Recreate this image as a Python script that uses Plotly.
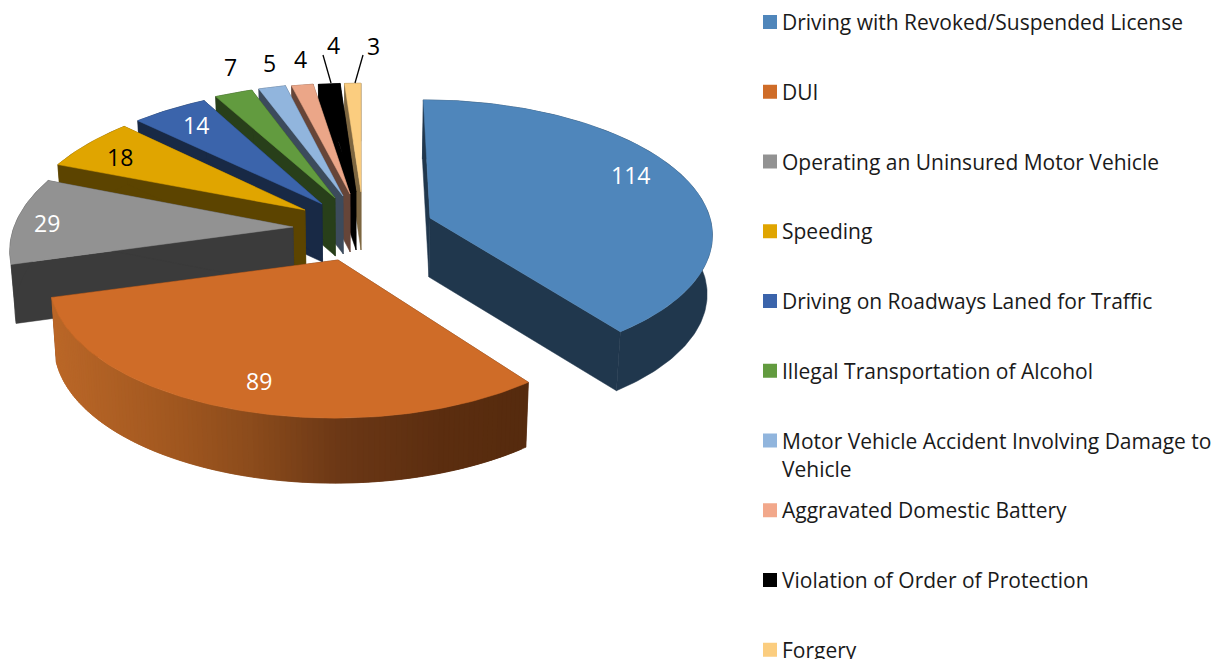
import numpy as np
import plotly.graph_objects as go

categories = ["Driving with Revoked/Suspended License", "DUI", "Operating an Uninsured Motor Vehicle",
              "Speeding", "Driving on Roadways Laned for Traffic", "Illegal Transportation of Alcohol",
              "Motor Vehicle Accident Involving Damage to<br>Vehicle", "Aggravated Domestic Battery",
              "Violation of Order of Protection", "Forgery"]
values = [114, 89, 29, 18, 14, 7, 5, 4, 4, 3]

top_colors = ["#4f86bb", "#cf6c28", "#929292", "#e0a500", "#3b64ab", "#629b3f", "#91b5dd", "#eba688", "#000000", "#fbcd7f"]
wall_colors = ["#20374d", "#5a2d10", "#3b3b3b", "#5c4400", "#182945", "#283f1a", "#3c4b5c", "#664538", "#000000", "#7d6640"]
swatch_colors = ["#4f86bb", "#cf6c28", "#929292", "#e0a500", "#3b64ab", "#629b3f", "#91b5dd", "#f2a88b", "#000000", "#fbcd7f"]

# drawing geometry of the exploded 3-D pie (pixel space)
tips = [(430, 218), (338, 260), (293, 227), (305, 210), (322, 204), (335, 198), (343, 196), (350, 194), (356, 192), (361, 192)]
radii_x = [280, 285, 279, 281, 284, 284, 284, 284, 284, 284]
radii_y = [130.5, 136, 136, 133, 132.5, 130, 129, 126.5, 124, 124]
perspective = [0.105, 0.14, 0.14, 0.14, 0.14, 0.14, 0.14, 0.14, 0.14, 0.14]
thickness = [59, 65, 59, 58, 58, 58, 58, 58, 58, 58]
X0, WALL_SHRINK = 360.0, 0.985
draw_order = [9, 8, 7, 6, 5, 4, 3, 2, 1, 0]

label_text = ["114", "89", "29", "18", "14", "7", "5", "4", "4", "3"]
label_pos = [(630, 175), (259, 381), (47, 223), (120, 157), (196, 125), (230, 67), (269, 63), (300, 59), (333, 45), (373, 46)]
label_colors = ["white", "white", "white", "black", "white", "black", "black", "black", "black", "black"]
leader_lines = [((323, 55), (331, 83)), ((363, 55), (355, 83))]

FONT = "Open Sans"
LEGEND_X, LEGEND_TOP, LEGEND_STEP = 770, 22, 69.75

# wall shading of the DUI slice, by horizontal position
orange_x = [55, 170, 250, 340, 440, 528]
orange_r = [186, 162, 140, 108, 92, 86]
orange_g = [103, 88, 76, 56, 46, 43]
orange_b = [40, 32, 28, 22, 16, 14]


def project(i, theta):
    X, Y = np.sin(theta), -np.cos(theta)
    s = 1.0 / (1.0 - perspective[i] * Y)
    x = X0 + (tips[i][0] - X0) * s + radii_x[i] * X * s
    y = tips[i][1] + radii_y[i] * Y * s
    return x, y


def lower(i, x, y):
    return X0 + (x - X0) * WALL_SHRINK, y + thickness[i]


def poly(fig, xs, ys, color):
    fig.add_trace(go.Scatter(x=list(xs), y=list(ys), mode="lines", fill="toself", fillcolor=color,
                             line=dict(color=color, width=0.5), hoverinfo="skip", showlegend=False))


def orange_at(x):
    return "rgb({},{},{})".format(int(np.interp(x, orange_x, orange_r)), int(np.interp(x, orange_x, orange_g)),
                                  int(np.interp(x, orange_x, orange_b)))


edges = np.cumsum([0] + values) / sum(values) * 2 * np.pi

fig = go.Figure()
for i in draw_order:
    a0, a1 = edges[i], edges[i + 1]
    th = np.linspace(a0, a1, max(8, int((a1 - a0) * 60)))
    rx, ry = project(i, th)
    bx, by = lower(i, rx, ry)
    tx, ty = tips[i]
    btx, bty = lower(i, tx, ty)
    # radial walls
    for rxe, rye, bxe, bye in ((rx[0], ry[0], bx[0], by[0]), (rx[-1], ry[-1], bx[-1], by[-1])):
        poly(fig, [tx, rxe, bxe, btx, tx], [ty, rye, bye, bty, ty], wall_colors[i])
    # outer wall
    if i == 1:
        n = len(th)
        for j in range(n - 1):
            e = min(j + 2, n - 1)
            poly(fig, [rx[j], rx[e], bx[e], bx[j], rx[j]], [ry[j], ry[e], by[e], by[j], ry[j]],
                 orange_at((rx[j] + rx[j + 1]) / 2))
    else:
        poly(fig, np.r_[rx, bx[::-1], rx[0]], np.r_[ry, by[::-1], ry[0]], wall_colors[i])
    # top face
    poly(fig, np.r_[tx, rx, tx], np.r_[ty, ry, ty], top_colors[i])

for (p, q) in leader_lines:
    fig.add_trace(go.Scatter(x=[p[0], q[0]], y=[p[1], q[1]], mode="lines", line=dict(color="black", width=1.3),
                             hoverinfo="skip", showlegend=False))

fig.add_trace(go.Scatter(x=[LEGEND_X] * len(categories), y=[LEGEND_TOP + k * LEGEND_STEP for k in range(len(categories))],
                         mode="markers", marker=dict(symbol="square", size=14, color=swatch_colors, line=dict(width=0)),
                         hovertext=categories, hoverinfo="text", showlegend=False))

annotations = []
for t, (x, y), c in zip(label_text, label_pos, label_colors):
    annotations.append(dict(x=x, y=y, text=t, showarrow=False, xanchor="center", yanchor="middle",
                            font=dict(family=FONT, size=23, color=c)))
for k, name in enumerate(categories):
    for m, line in enumerate(name.split("<br>")):
        annotations.append(dict(x=LEGEND_X + 10, y=LEGEND_TOP + k * LEGEND_STEP + m * 28.5, text=line, showarrow=False,
                                xanchor="left", yanchor="middle", font=dict(family=FONT, size=21, color="#1a1a1a")))

fig.update_layout(width=1225, height=659, margin=dict(l=0, r=0, t=0, b=0), paper_bgcolor="white", plot_bgcolor="white",
                  showlegend=False, annotations=annotations,
                  xaxis=dict(range=[0, 1225], visible=False, fixedrange=True),
                  yaxis=dict(range=[659, 0], visible=False, fixedrange=True))
fig.write_html("out.html", config=dict(displayModeBar=False),
               post_script="document.body.style.margin='0';document.documentElement.style.overflow='hidden';")
